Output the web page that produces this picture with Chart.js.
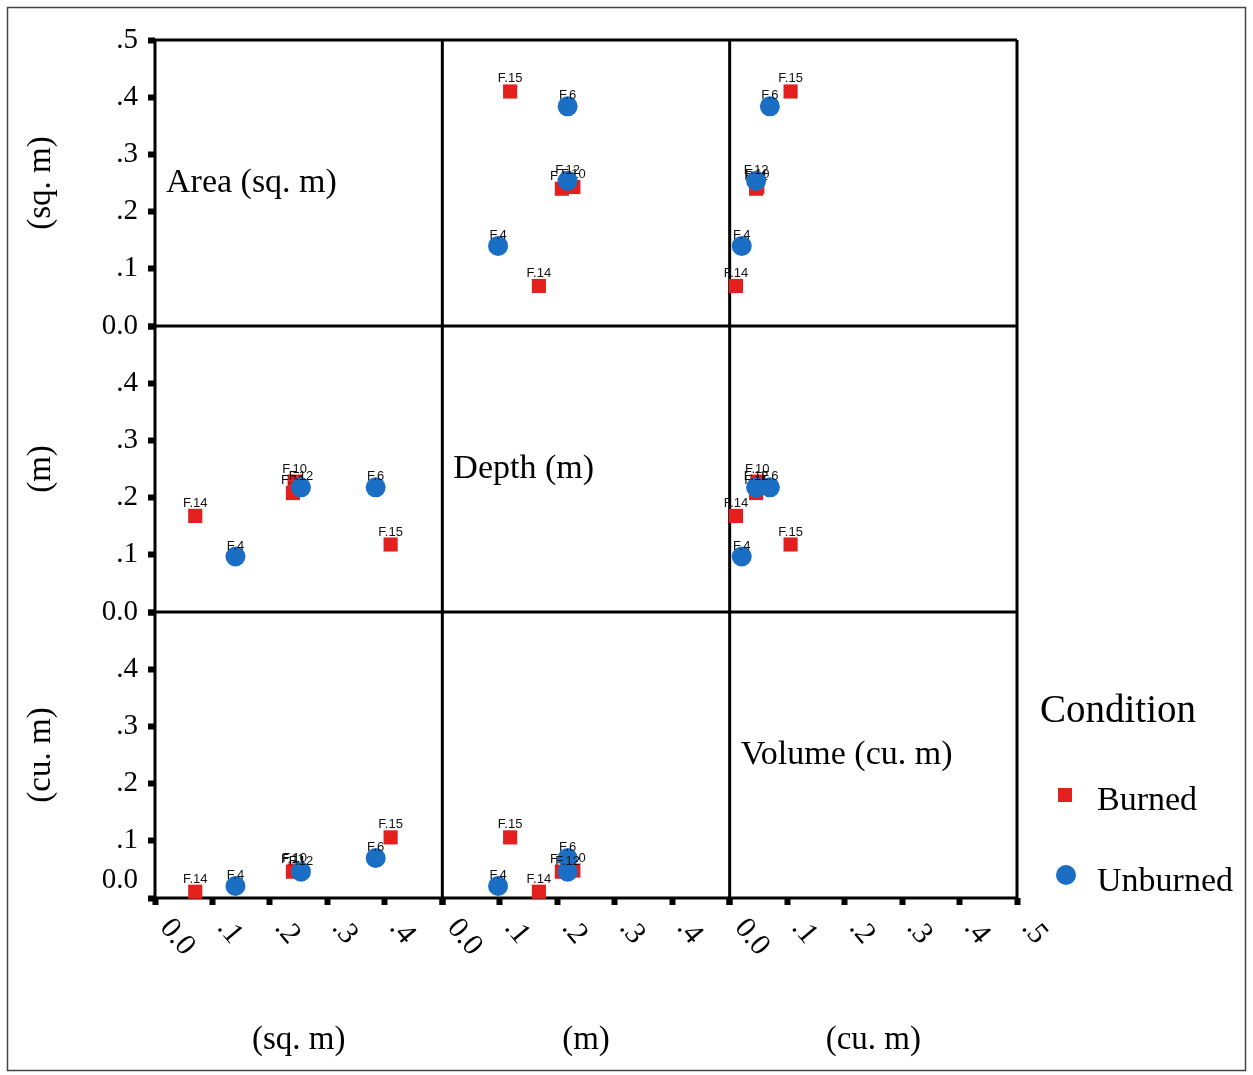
<!DOCTYPE html>
<html><head><meta charset="utf-8">
<script src="https://cdn.jsdelivr.net/npm/chart.js@4/dist/chart.umd.min.js"></script>
<style>html,body{margin:0;padding:0;background:#fff}canvas{display:block}</style>
</head><body>
<canvas id="c" width="1253" height="1075"></canvas>
<script>
// ---- data ----
const pointLabels = ['F.4', 'F.6', 'F.10', 'F.11', 'F.12', 'F.14', 'F.15'];
const condition   = ['Unburned', 'Unburned', 'Burned', 'Burned', 'Unburned', 'Burned', 'Burned'];
const area   = [0.140, 0.384, 0.243, 0.240, 0.254, 0.070, 0.410];
const depth  = [0.097, 0.218, 0.228, 0.208, 0.218, 0.168, 0.118];
const volume = [0.021, 0.070, 0.048, 0.046, 0.046, 0.011, 0.106];
const variableNames = ['Area (sq. m)', 'Depth (m)', 'Volume (cu. m)'];
const unitLabels = ['(sq. m)', '(m)', '(cu. m)'];
const conditions = ['Burned', 'Unburned'];
const legendTitle = 'Condition';
const tickValues = [0, 0.1, 0.2, 0.3, 0.4, 0.5];

// ---- styles ----
const SERIF = "'Liberation Serif', 'Times New Roman', serif";
const SANS = "'Liberation Sans', Arial, sans-serif";
const COLORS = { Burned: 'rgb(228,32,30)', Unburned: 'rgb(26,110,196)' };
const SHAPES = { Burned: 'rect', Unburned: 'circle' };
const ORDERS = { Burned: 2, Unburned: 1 };

const vars = [area, depth, volume];
const fmt = v => (Math.abs(v) < 1e-9 ? '0.0' : '.' + Math.round(v * 10));

const datasets = [];
for (let r = 0; r < 3; r++) {
  for (let c = 0; c < 3; c++) {
    if (r === c) continue;
    conditions.forEach(cond => {
      const pts = [];
      pointLabels.forEach((lab, i) => {
        if (condition[i] === cond) pts.push({ x: vars[c][i], y: vars[r][i], label: lab });
      });
      datasets.push({
        label: cond,
        data: pts,
        xAxisID: 'x' + c,
        yAxisID: 'y' + r,
        pointStyle: SHAPES[cond],
        backgroundColor: COLORS[cond],
        borderColor: COLORS[cond],
        borderWidth: 0,
        pointRadius: 10,
        pointHoverRadius: 10,
        order: ORDERS[cond],
        clip: false
      });
    });
  }
}

const gridOpts = { display: true, drawOnChartArea: false, drawTicks: true, tickLength: 7, tickWidth: 6, tickColor: '#000' };
const scales = {};
// left axes are stacked bottom-first, so insert the bottom row first
for (let r = 2; r >= 0; r--) {
  scales['y' + r] = {
    type: 'linear', position: 'left', stack: 'rows', stackWeight: 1,
    min: 0, max: 0.5,
    afterBuildTicks: s => { s.ticks = tickValues.map(v => ({ value: v })); },
    ticks: {
      autoSkip: false,
      font: { family: SERIF, size: 29 }, color: '#000', padding: 10,
      callback: (v) => {
        if (v >= 0.5 - 1e-9 && r !== 0) return '';
        if (Math.abs(v) < 1e-9 && r === 2) return ['0.0', ''];
        return fmt(v);
      }
    },
    grid: gridOpts,
    border: { display: false },
    title: { display: true, text: unitLabels[r], color: '#000', font: { family: SERIF, size: 33 }, padding: { top: 22, bottom: 0 } },
    afterFit: s => { s.width = 155; }
  };
}
for (let c = 0; c < 3; c++) {
  scales['x' + c] = {
    type: 'linear', position: 'bottom', stack: 'cols', stackWeight: 1,
    min: 0, max: 0.5,
    afterBuildTicks: s => { s.ticks = tickValues.map(v => ({ value: v })); },
    ticks: { display: false },
    grid: gridOpts,
    border: { display: false },
    title: { display: true, text: unitLabels[c], color: '#000', font: { family: SERIF, size: 33 }, padding: { top: 0, bottom: 15 } },
    afterFit: s => { s.height = 177; }
  };
}

const matrixPlugin = {
  id: 'matrix',
  beforeDraw(chart) {
    const ctx = chart.ctx;
    ctx.save();
    ctx.fillStyle = '#fff';
    ctx.fillRect(0, 0, chart.width, chart.height);
    ctx.strokeStyle = '#444';
    ctx.lineWidth = 1.5;
    ctx.strokeRect(7.5, 7.5, chart.width - 15, chart.height - 12);
    ctx.restore();
  },
  beforeDatasetsDraw(chart) {
    const ctx = chart.ctx, a = chart.chartArea;
    ctx.save();
    ctx.strokeStyle = '#000';
    ctx.lineWidth = 3;
    ctx.beginPath();
    for (let c = 0; c < 3; c++) {
      const s = chart.scales['x' + c];
      ctx.moveTo(s.left, a.top); ctx.lineTo(s.left, a.bottom);
      ctx.moveTo(s.right, a.top); ctx.lineTo(s.right, a.bottom);
    }
    for (let r = 0; r < 3; r++) {
      const s = chart.scales['y' + r];
      ctx.moveTo(a.left, s.top); ctx.lineTo(a.right, s.top);
      ctx.moveTo(a.left, s.bottom); ctx.lineTo(a.right, s.bottom);
    }
    ctx.stroke();
    // diagonal variable names
    ctx.fillStyle = '#000';
    ctx.font = '34px ' + SERIF;
    ctx.textAlign = 'left';
    ctx.textBaseline = 'middle';
    for (let k = 0; k < 3; k++) {
      const sx = chart.scales['x' + k], sy = chart.scales['y' + k];
      ctx.fillText(variableNames[k], sx.left + 11, (sy.top + sy.bottom) / 2);
    }
    ctx.restore();
  },
  afterDatasetDraw(chart, args) {
    const ds = chart.data.datasets[args.index];
    const ctx = chart.ctx;
    ctx.save();
    ctx.font = '13px ' + SANS;
    ctx.fillStyle = '#111';
    ctx.textAlign = 'center';
    ctx.textBaseline = 'alphabetic';
    const off = ds.pointStyle === 'rect' ? 9 : 7;
    args.meta.data.forEach((el, i) => {
      ctx.fillText(ds.data[i].label, el.x, el.y - off);
    });
    ctx.restore();
  },
  afterDraw(chart) {
    const ctx = chart.ctx;
    ctx.save();
    // rotated x tick labels
    ctx.fillStyle = '#000';
    ctx.font = '30px ' + SERIF;
    ctx.textAlign = 'left';
    ctx.textBaseline = 'middle';
    for (let c = 0; c < 3; c++) {
      const s = chart.scales['x' + c];
      s.ticks.forEach(t => {
        if (t.value >= 0.5 - 1e-9 && c !== 2) return;
        const px = s.getPixelForValue(t.value);
        ctx.save();
        ctx.translate(px + 10, s.top + 25);
        ctx.rotate(50 * Math.PI / 180);
        ctx.fillText(fmt(t.value), 0, 0);
        ctx.restore();
      });
    }
    // legend
    const lx = 1040;
    ctx.font = '39px ' + SERIF;
    ctx.textBaseline = 'middle';
    ctx.fillText(legendTitle, lx, 712);
    ctx.font = '34px ' + SERIF;
    const rows = [{ cond: conditions[0], y: 799 }, { cond: conditions[1], y: 880 }];
    rows.forEach(it => {
      ctx.fillStyle = COLORS[it.cond];
      if (SHAPES[it.cond] === 'rect') {
        ctx.fillRect(1058, it.y - 11, 14, 14);
      } else {
        ctx.beginPath(); ctx.arc(1066, it.y - 5, 10, 0, Math.PI * 2); ctx.fill();
      }
      ctx.fillStyle = '#000';
      ctx.fillText(it.cond, 1097, it.y + 2);
    });
    ctx.restore();
  }
};

new Chart(document.getElementById('c'), {
  type: 'scatter',
  data: { datasets },
  options: {
    responsive: false,
    animation: false,
    devicePixelRatio: 1,
    layout: { padding: { left: 0, top: 40, right: 236, bottom: 0 } },
    plugins: { legend: { display: false }, tooltip: { enabled: false } },
    scales
  },
  plugins: [matrixPlugin]
});
</script>
</body></html>
